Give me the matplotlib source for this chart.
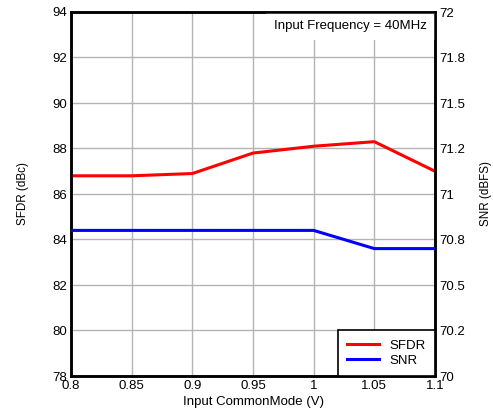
import matplotlib
matplotlib.use('Agg')
import matplotlib.pyplot as plt

plt.rcParams['font.family'] = ['Liberation Sans', 'DejaVu Sans']
plt.rcParams['font.size'] = 9.5

# data
vcm = [0.8, 0.85, 0.9, 0.95, 1.0, 1.05, 1.1]
sfdr = [86.8, 86.8, 86.9, 87.8, 88.1, 88.3, 87.0]
snr = [70.8, 70.8, 70.8, 70.8, 70.8, 70.7, 70.7]

x_ticks = [0.8, 0.85, 0.9, 0.95, 1.0, 1.05, 1.1]
x_labels = ['0.8', '0.85', '0.9', '0.95', '1', '1.05', '1.1']
sfdr_ticks = [78, 80, 82, 84, 86, 88, 90, 92, 94]
snr_ticks = [70, 70.25, 70.5, 70.75, 71, 71.25, 71.5, 71.75, 72]
snr_labels = ['70', '70.2', '70.5', '70.8', '71', '71.2', '71.5', '71.8', '72']

fig = plt.figure(figsize=(4.93, 4.19), dpi=100)
ax = fig.add_axes([71/493, 1 - 376/419, (435-71)/493, (376-12)/419])
ax2 = ax.twinx()

ax.plot(vcm, sfdr, color='#ff0000', lw=2.2, label='SFDR', zorder=3)
ax2.plot(vcm, snr, color='#0000ff', lw=2.2, label='SNR', zorder=3)

ax.set_xlim(0.8, 1.1)
ax.set_ylim(78, 94)
ax2.set_ylim(70, 72)
ax.set_xticks(x_ticks)
ax.set_xticklabels(x_labels)
ax.set_yticks(sfdr_ticks)
ax2.set_yticks(snr_ticks)
ax2.set_yticklabels(snr_labels)
ax.grid(True, color='#b4b4b4', lw=1)
ax.tick_params(length=0, pad=3, labelsize=9.5)
ax2.tick_params(length=0, pad=3, labelsize=9.5)
ax.set_xlabel('Input CommonMode (V)', fontsize=9.5, labelpad=3)
ax.set_ylabel('SFDR (dBc)', fontsize=8.4)
ax2.set_ylabel('SNR (dBFS)', fontsize=8.4)
ax.yaxis.set_label_coords(-0.115, 0.5)
ax2.yaxis.set_label_coords(1.124, 0.5)

for a in (ax, ax2):
    for s in a.spines.values():
        s.set_linewidth(1.8)

ax.text(0.978, 0.978, 'Input Frequency = 40MHz', transform=ax.transAxes,
        ha='right', va='top', fontsize=9.5, zorder=5,
        bbox=dict(facecolor='white', edgecolor='none', pad=6))

h1, l1 = ax.get_legend_handles_labels()
h2, l2 = ax2.get_legend_handles_labels()
leg = ax2.legend(h1 + h2, l1 + l2, loc='lower right', fontsize=9.5,
                 fancybox=False, framealpha=1, edgecolor='black',
                 borderaxespad=0, handlelength=2.4, borderpad=0.7,
                 labelspacing=0.2)
leg.get_frame().set_linewidth(1.2)

fig.savefig('out.png', dpi=100)
